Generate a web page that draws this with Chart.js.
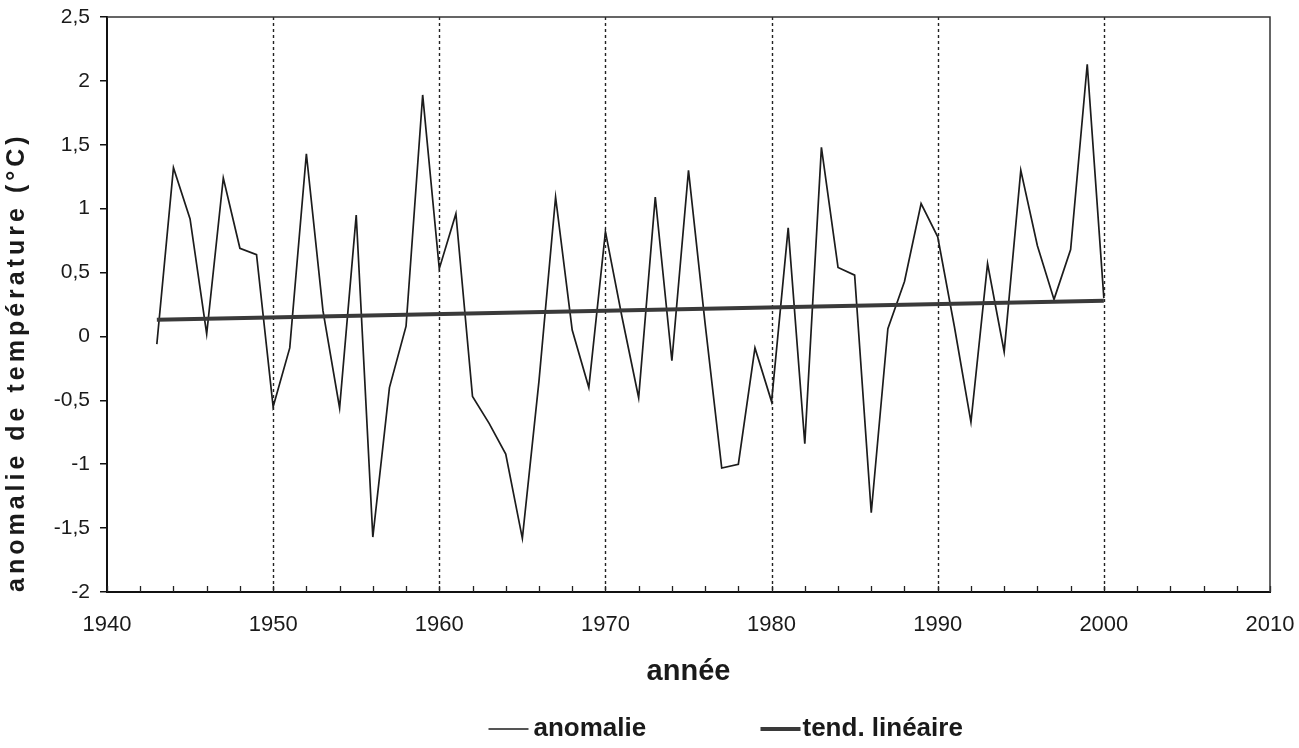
<!DOCTYPE html>
<html>
<head>
<meta charset="utf-8">
<script src="https://cdn.jsdelivr.net/npm/chart.js@4.4.0/dist/chart.umd.min.js"></script>
<style>
  html, body { margin: 0; padding: 0; background: #fff; }
</style>
</head>
<body>
<canvas id="chart" width="1299" height="748"></canvas>
<script>
// yearly temperature anomaly
const years = [1943, 1944, 1945, 1946, 1947, 1948, 1949, 1950, 1951, 1952,
  1953, 1954, 1955, 1956, 1957, 1958, 1959, 1960, 1961, 1962,
  1963, 1964, 1965, 1966, 1967, 1968, 1969, 1970, 1971, 1972,
  1973, 1974, 1975, 1976, 1977, 1978, 1979, 1980, 1981, 1982,
  1983, 1984, 1985, 1986, 1987, 1988, 1989, 1990, 1991, 1992,
  1993, 1994, 1995, 1996, 1997, 1998, 1999, 2000];
const anomalies = [-0.06, 1.32, 0.92, 0.02, 1.24, 0.69, 0.64, -0.55, -0.09, 1.43,
  0.2, -0.56, 0.95, -1.57, -0.40, 0.08, 1.89, 0.53, 0.96, -0.47,
  -0.68, -0.92, -1.58, -0.35, 1.09, 0.05, -0.40, 0.82, 0.15, -0.48,
  1.09, -0.19, 1.30, 0.1, -1.03, -1.0, -0.09, -0.51, 0.85, -0.84,
  1.48, 0.54, 0.48, -1.38, 0.06, 0.43, 1.04, 0.78, 0.08, -0.67,
  0.57, -0.12, 1.30, 0.71, 0.29, 0.68, 2.13, 0.30];

// linear trend end points
const trendYears = [1943, 2000];
const trendValues = [0.13, 0.28];

const xTicks = [1940, 1950, 1960, 1970, 1980, 1990, 2000, 2010];
const yTicks = [-2, -1.5, -1, -0.5, 0, 0.5, 1, 1.5, 2, 2.5];
const decadeLines = [1950, 1960, 1970, 1980, 1990, 2000];

const FONT = '"Liberation Sans", Arial, sans-serif';
const INK = '#1a1a1a';

Chart.defaults.font.family = FONT;
Chart.defaults.color = INK;

// a bit of letter spacing on the y title, like the scanned original
const spacedTitle = {
  id: 'spacedTitle',
  afterLayout(chart) {
    const s = chart.scales.y;
    if (s._spaced) return;
    const orig = s.drawTitle;
    s.drawTitle = function () {
      this.ctx.save();
      this.ctx.letterSpacing = '4px';
      orig.call(this);
      this.ctx.restore();
    };
    s._spaced = true;
  }
};

// dotted decade lines, small inner ticks, box
const frame = {
  id: 'frame',
  beforeDatasetsDraw(chart) {
    const {ctx, chartArea: a, scales: {x}} = chart;
    ctx.save();
    ctx.strokeStyle = '#222';
    ctx.lineWidth = 1.4;
    ctx.setLineDash([3, 3]);
    decadeLines.forEach(v => {
      const px = Math.round(x.getPixelForValue(v)) + 0.5;
      ctx.beginPath();
      ctx.moveTo(px, a.top);
      ctx.lineTo(px, a.bottom);
      ctx.stroke();
    });
    ctx.restore();
  },
  afterDatasetsDraw(chart) {
    const {ctx, chartArea: a, scales: {x}} = chart;
    ctx.save();
    ctx.strokeStyle = '#222';
    ctx.lineWidth = 1.3;
    for (let v = x.min; v <= x.max; v += 2) {
      const px = Math.round(x.getPixelForValue(v)) + 0.5;
      ctx.beginPath();
      ctx.moveTo(px, a.bottom);
      ctx.lineTo(px, a.bottom - 6);
      ctx.stroke();
    }
    ctx.strokeStyle = '#333';
    ctx.lineWidth = 1.5;
    ctx.beginPath();
    ctx.moveTo(a.left, a.top);
    ctx.lineTo(a.right, a.top);
    ctx.lineTo(a.right, a.bottom);
    ctx.stroke();
    ctx.restore();
  }
};

// legend drawn under the axis title
const bottomLegend = {
  id: 'bottomLegend',
  afterDraw(chart) {
    const {ctx, chartArea: a} = chart;
    const cx = (a.left + a.right) / 2;
    const y = 729;
    const items = [
      {ds: chart.data.datasets[0], line: cx - 200, text: cx - 155},
      {ds: chart.data.datasets[1], line: cx + 72, text: cx + 114}
    ];
    ctx.save();
    ctx.font = 'bold 26px ' + FONT;
    ctx.textBaseline = 'middle';
    ctx.fillStyle = INK;
    items.forEach(it => {
      ctx.strokeStyle = it.ds.borderColor;
      ctx.lineWidth = it.ds.borderWidth;
      ctx.beginPath();
      ctx.moveTo(it.line, y);
      ctx.lineTo(it.line + 40, y);
      ctx.stroke();
      ctx.fillText(it.ds.label, it.text, y);
    });
    ctx.restore();
  }
};

new Chart(document.getElementById('chart'), {
  type: 'line',
  data: {
    datasets: [{
      label: 'anomalie',
      data: years.map((yr, i) => ({x: yr, y: anomalies[i]})),
      borderColor: '#1c1c1c',
      borderWidth: 1.7,
      pointRadius: 0,
      tension: 0,
      order: 1
    }, {
      label: 'tend. linéaire',
      data: trendYears.map((yr, i) => ({x: yr, y: trendValues[i]})),
      borderColor: '#3a3a3a',
      borderWidth: 4,
      pointRadius: 0,
      order: 0
    }]
  },
  options: {
    responsive: false,
    animation: false,
    devicePixelRatio: 1,
    layout: {padding: {left: 0, right: 29, top: 17, bottom: 55}},
    plugins: {
      legend: {display: false},
      tooltip: {enabled: false}
    },
    scales: {
      x: {
        type: 'linear',
        min: 1940,
        max: 2010,
        afterBuildTicks: s => { s.ticks = xTicks.map(v => ({value: v})); },
        afterFit: s => {
          s.height = 101;
          s.paddingLeft = 0;
          s.paddingRight = 0;
        },
        ticks: {
          font: {size: 22},
          color: INK,
          padding: 20,
          maxRotation: 0,
          autoSkip: false,
          callback: v => String(v)
        },
        grid: {display: false, drawTicks: false},
        border: {display: true, color: '#111', width: 2},
        title: {
          display: true,
          text: 'année',
          color: INK,
          font: {size: 29, weight: 'bold'},
          padding: {top: 0, bottom: 4}
        }
      },
      y: {
        min: -2,
        max: 2.5,
        afterBuildTicks: s => { s.ticks = yTicks.map(v => ({value: v})); },
        afterFit: s => {
          s.width = 107;
          s.paddingTop = 0;
          s.paddingBottom = 0;
        },
        ticks: {
          font: {size: 21},
          color: INK,
          padding: 10,
          callback: v => String(v).replace('.', ',')
        },
        grid: {
          drawOnChartArea: false,
          drawTicks: true,
          tickLength: 7,
          color: '#111',
          lineWidth: 1.5
        },
        border: {display: true, color: '#111', width: 2},
        title: {
          display: true,
          text: 'anomalie de température (°C)',
          align: 'start',
          color: INK,
          font: {size: 25, weight: 'bold'},
          padding: {top: 2, bottom: 0}
        }
      }
    }
  },
  plugins: [spacedTitle, frame, bottomLegend]
});
</script>
</body>
</html>
